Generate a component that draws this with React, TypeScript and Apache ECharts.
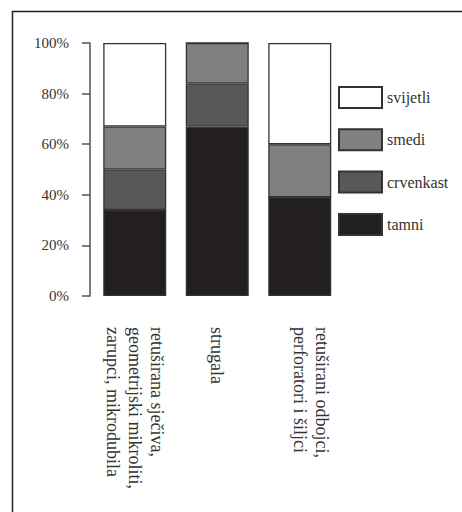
import React, { useEffect, useRef } from "react";
import * as echarts from "echarts";

const categories = [
  "retuširana sječiva,\ngeometrijski mikroliti,\nzarupci, mikrodubila",
  "strugala",
  "retuširani odbojci,\nperforatori i šiljci\n",
];
const tamni = [34, 67, 39];
const crvenkast = [16, 17, 0];
const smedi = [17, 16, 21];
const svijetli = [33, 0, 40];
const legendOrder = ["svijetli", "smedi", "crvenkast", "tamni"];

const FONT = "Liberation Serif";

export default function App() {
  const ref = useRef<HTMLDivElement>(null);
  useEffect(() => {
    if (!ref.current) return;
    const chart = echarts.init(ref.current, null, { renderer: "svg" });
    const border = { borderColor: "#333", borderWidth: 1.3 };
    const mk = (name: string, data: number[], color: string) => ({
      name,
      type: "bar",
      stack: "total",
      data,
      barWidth: 63,
      itemStyle: { color, ...border },
    });
    chart.setOption({
      animation: false,
      backgroundColor: "#ffffff",
      textStyle: { fontFamily: FONT },
      grid: { left: 93.5, right: 121, top: 43, bottom: 216 },
      legend: {
        data: legendOrder,
        orient: "vertical",
        left: 338,
        top: 86,
        padding: 0,
        icon: "rect",
        itemWidth: 43,
        itemHeight: 21,
        itemGap: 19.3,
        textStyle: { fontFamily: FONT, fontSize: 16, color: "#333" },
      },
      xAxis: {
        type: "category",
        data: categories,
        axisLine: { show: false },
        axisTick: { show: false },
        axisLabel: {
          rotate: -90,
          margin: 31,
          interval: 0,
          fontFamily: FONT,
          fontSize: 18,
          lineHeight: 22,
          color: "#333",
        },
      },
      yAxis: {
        type: "value",
        min: 0,
        max: 100,
        interval: 20,
        offset: 3.5,
        splitLine: { show: false },
        axisLine: { show: true, lineStyle: { color: "#555", width: 1.5 } },
        axisTick: { show: true, length: 8, lineStyle: { color: "#555", width: 1.5 } },
        axisLabel: {
          formatter: "{value}%",
          margin: 21,
          fontFamily: FONT,
          fontSize: 15,
          color: "#333",
        },
      },
      series: [
        mk("tamni", tamni, "#231f20"),
        mk("crvenkast", crvenkast, "#58585a"),
        mk("smedi", smedi, "#808080"),
        mk("svijetli", svijetli, "#ffffff"),
      ],
      graphic: [
        {
          type: "rect",
          shape: { x: 12.5, y: 11.5, width: 470, height: 520 },
          style: { fill: "none", stroke: "#222", lineWidth: 1.5 },
          silent: true,
        },
      ],
    });
    return () => chart.dispose();
  }, []);
  return (
    <div
      ref={ref}
      style={{ position: "absolute", left: 0, top: 0, width: 462, height: 512 }}
    />
  );
}
